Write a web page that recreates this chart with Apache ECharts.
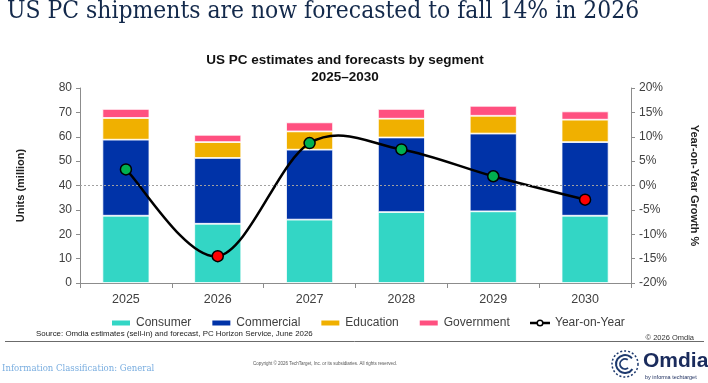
<!DOCTYPE html>
<html>
<head>
<meta charset="utf-8">
<script src="https://cdn.jsdelivr.net/npm/echarts@6/dist/echarts.min.js"></script>
<style>
html,body{margin:0;padding:0;background:#fff;}
#chart{width:708px;height:383px;}
</style>
</head>
<body>
<div id="chart"></div>
<script>
// ---- data ----
var years = ['2025', '2026', '2027', '2028', '2029', '2030'];
var consumer = [27.6, 24.3, 26.0, 29.1, 29.4, 27.6];
var commercial = [31.2, 27.0, 28.7, 30.6, 31.9, 30.2];
var education = [8.9, 6.5, 7.5, 7.7, 7.3, 9.2];
var government = [3.7, 3.0, 3.7, 4.0, 4.1, 3.4];
var yoy = [3.3, -14.5, 8.7, 7.4, 1.9, -2.9];
var leftTicks = {min: 0, max: 80, interval: 10};
var rightTicks = {min: -20, max: 20, interval: 5};

var chart = echarts.init(document.getElementById('chart'), null, {renderer: 'canvas'});
var axisGray = '#8c8c8c';
var labelColor = '#404040';
var sans = '"Liberation Sans", Arial, sans-serif';

function barSeries(name, data, color) {
  return {
    name: name, type: 'bar', stack: 'total', data: data,
    barWidth: 47,
    itemStyle: {color: color, borderColor: '#ffffff', borderWidth: 0.8},
    emphasis: {disabled: true}
  };
}

var bars = [
  barSeries('Consumer', consumer, '#33d6c5'),
  barSeries('Commercial', commercial, '#0033a8'),
  barSeries('Education', education, '#f0b000'),
  barSeries('Government', government, '#ff5080')
];
bars[0].markLine = {
  silent: true, symbol: 'none', label: {show: false},
  lineStyle: {color: '#a0a0a0', type: [2, 2], width: 1},
  data: [{yAxis: 40}]
};

// Smooth (Catmull-Rom) curve through the YoY points, like the spreadsheet's smoothed line
function renderCurve(params, api) {
  var i = params.dataIndexInside;
  var n = params.dataInsideLength;
  if (i >= n - 1) return null;
  function pt(j) {
    j = Math.max(0, Math.min(n - 1, j));
    return api.coord([api.value(0, j), api.value(1, j)]);
  }
  var p0 = pt(i - 1), p1 = pt(i), p2 = pt(i + 1), p3 = pt(i + 2);
  return {
    type: 'bezierCurve',
    shape: {
      x1: p1[0], y1: p1[1], x2: p2[0], y2: p2[1],
      cpx1: p1[0] + (p2[0] - p0[0]) / 6, cpy1: p1[1] + (p2[1] - p0[1]) / 6,
      cpx2: p2[0] - (p3[0] - p1[0]) / 6, cpy2: p2[1] - (p3[1] - p1[1]) / 6
    },
    style: {stroke: '#000', lineWidth: 2.5, fill: null}
  };
}

var option = {
  animation: false,
  textStyle: {fontFamily: sans},
  grid: {left: 80, right: 76, top: 88, bottom: 100, containLabel: false},
  legend: {
    left: 105, top: 312, itemWidth: 20, itemHeight: 7, itemGap: 19,
    textStyle: {fontSize: 12, color: labelColor, fontFamily: sans},
    data: [
      {name: 'Consumer', icon: 'rect'},
      {name: 'Commercial', icon: 'rect'},
      {name: 'Education', icon: 'rect'},
      {name: 'Government', icon: 'rect'},
      {name: 'Year-on-Year', lineStyle: {color: '#000', width: 2.5, opacity: 1},
        itemStyle: {color: '#fff', borderColor: '#000', borderWidth: 1.5}}
    ]
  },
  xAxis: {
    type: 'category', data: years,
    axisLine: {lineStyle: {color: axisGray}},
    axisTick: {show: true, length: 5, lineStyle: {color: axisGray}},
    axisLabel: {fontSize: 12.5, color: labelColor, margin: 10}
  },
  yAxis: [
    {
      type: 'value', min: leftTicks.min, max: leftTicks.max, interval: leftTicks.interval,
      name: 'Units (million)', nameLocation: 'middle', nameRotate: 90, nameGap: 54,
      nameTextStyle: {fontSize: 11, fontWeight: 'bold', color: '#222'},
      axisLine: {show: true, lineStyle: {color: axisGray}},
      axisTick: {show: true, length: 4, lineStyle: {color: axisGray}},
      splitLine: {show: false},
      axisLabel: {fontSize: 12, color: labelColor, margin: 8}
    },
    {
      type: 'value', min: rightTicks.min, max: rightTicks.max, interval: rightTicks.interval,
      position: 'right',
      name: 'Year-on-Year Growth %', nameLocation: 'middle', nameRotate: -90, nameGap: 58,
      nameTextStyle: {fontSize: 11, fontWeight: 'bold', color: '#222'},
      axisLine: {show: true, lineStyle: {color: axisGray}},
      axisTick: {show: true, length: 4, lineStyle: {color: axisGray}},
      splitLine: {show: false},
      axisLabel: {fontSize: 12, color: labelColor, margin: 8, formatter: '{value}%'}
    }
  ],
  series: bars.concat([
    {
      name: 'YoY curve', type: 'custom', yAxisIndex: 1, z: 4, silent: true,
      renderItem: renderCurve,
      encode: {x: 0, y: 1},
      data: yoy.map(function (v, i) { return [i, v]; })
    },
    {
      name: 'Year-on-Year', type: 'line', yAxisIndex: 1,
      symbol: 'circle', symbolSize: 11,
      lineStyle: {color: '#000', width: 2.5, opacity: 0},
      itemStyle: {color: '#ffffff', borderColor: '#000', borderWidth: 1.5},
      emphasis: {disabled: true},
      z: 5,
      data: yoy.map(function (v) {
        return {value: v, itemStyle: {color: v >= 0 ? '#00b050' : '#ff0000', borderColor: '#000', borderWidth: 1.5}};
      })
    }
  ]),
  graphic: [
    {type: 'text', left: 7, top: 0, style: {text: 'US PC shipments are now forecasted to fall 14% in 2026',
      font: '24.4px "DejaVu Serif Condensed", "DejaVu Serif", serif', fill: '#13294b'}},
    {type: 'text', x: 345, y: 60, style: {text: 'US PC estimates and forecasts by segment',
      font: 'bold 13.5px "Liberation Sans", Arial, sans-serif', fill: '#111', textAlign: 'center', textVerticalAlign: 'middle'}},
    {type: 'text', x: 345, y: 77, style: {text: '2025\u20132030',
      font: 'bold 13.5px "Liberation Sans", Arial, sans-serif', fill: '#111', textAlign: 'center', textVerticalAlign: 'middle'}},
    {type: 'text', x: 36, y: 334, style: {text: 'Source: Omdia estimates (sell-in) and forecast, PC Horizon Service, June 2026',
      font: '7.9px "Liberation Sans", Arial, sans-serif', fill: '#222', textVerticalAlign: 'middle'}},
    {type: 'text', x: 694, y: 338, style: {text: '\u00a9 2026 Omdia',
      font: '7.5px "Liberation Sans", Arial, sans-serif', fill: '#333', textAlign: 'right', textVerticalAlign: 'middle'}},
    {type: 'line', shape: {x1: 5, y1: 341.5, x2: 704, y2: 341.5}, style: {stroke: '#6b6b6b', lineWidth: 1}},
    {type: 'text', x: 2, y: 369, style: {text: 'Information Classification: General',
      font: '9.5px "DejaVu Serif Condensed", "DejaVu Serif", serif', fill: '#7aaee0', textVerticalAlign: 'middle'}},
    {type: 'text', x: 253, y: 364, style: {text: 'Copyright \u00a9 2026 TechTarget, Inc. or its subsidiaries. All rights reserved.',
      font: '4.5px "Liberation Sans", Arial, sans-serif', fill: '#555', textVerticalAlign: 'middle'}},
    // Omdia logo
    {type: 'circle', shape: {cx: 625, cy: 364, r: 13}, style: {fill: 'none', stroke: '#1e3a6e', lineWidth: 1.5, lineDash: [2, 2]}},
    {type: 'arc', shape: {cx: 625, cy: 364, r: 9, startAngle: 0.6, endAngle: 5.6}, style: {fill: 'none', stroke: '#1e3a6e', lineWidth: 2}},
    {type: 'arc', shape: {cx: 625, cy: 364, r: 5, startAngle: 0.9, endAngle: 5.3}, style: {fill: 'none', stroke: '#1e3a6e', lineWidth: 1.8}},
    {type: 'text', x: 643, y: 361, style: {text: 'Omdia',
      font: 'bold 21px "Liberation Sans", Arial, sans-serif', fill: '#1a2b5c', textVerticalAlign: 'middle'}},
    {type: 'text', x: 645, y: 377, style: {text: 'by informa techtarget',
      font: '5.5px "Liberation Sans", Arial, sans-serif', fill: '#1a2b5c', textVerticalAlign: 'middle'}}
  ]
};
chart.setOption(option);
</script>
</body>
</html>
